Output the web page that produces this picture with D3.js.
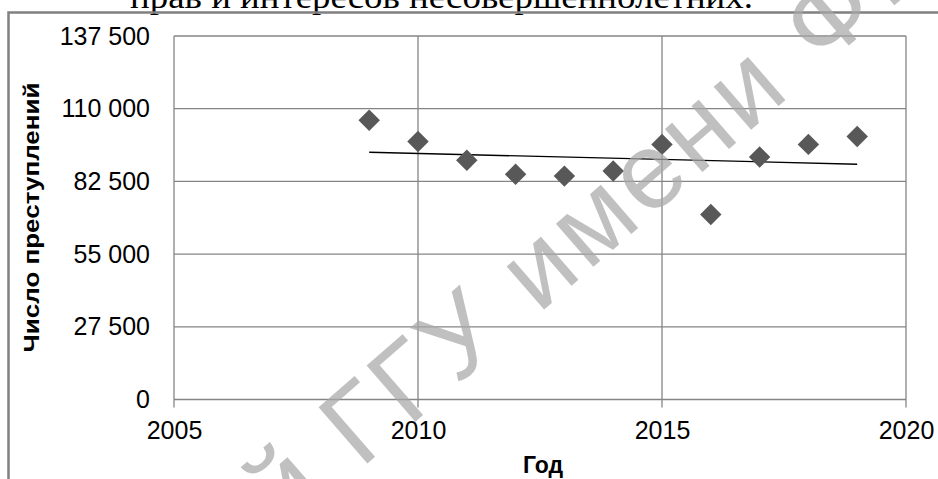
<!DOCTYPE html>
<html>
<head>
<meta charset="utf-8">
<script src="https://cdn.jsdelivr.net/npm/d3@7"></script>
<style>
  html, body { margin: 0; padding: 0; background: #fff; }
  svg { display: block; }
</style>
</head>
<body>
<script>
// ---- data ----
const years = [2009, 2010, 2011, 2012, 2013, 2014, 2015, 2016, 2017, 2018, 2019];
const crimes = [105600, 97600, 90500, 85200, 84500, 86400, 96500, 70000, 91700, 96500, 99500];
const xTickValues = [2005, 2010, 2015, 2020];
const yTickValues = [0, 27500, 55000, 82500, 110000, 137500];
const xDomain = [2005, 2020];
const yDomain = [0, 137500];
const titleText = "прав и интересов несовершеннолетних.";
const yLabel = "Число преступлений";
const xLabel = "Год";
const watermark = "й ГГУ имени Ф.";

const W = 938, H = 479;
const svg = d3.select("body").append("svg").attr("width", W).attr("height", H);

const x = d3.scaleLinear().domain(xDomain).range([174, 906]);
const y = d3.scaleLinear().domain(yDomain).range([399.5, 36]);

const locale = d3.formatLocale({decimal: ",", thousands: " ", grouping: [3], currency: ["", ""]});
const fmt = locale.format(",");

const gridColor = "#858585";
const sans = "'Liberation Sans', Arial, sans-serif";

// title (cut at top)
svg.append("text")
  .attr("x", 130).attr("y", 7.5)
  .attr("textLength", 623).attr("lengthAdjust", "spacingAndGlyphs")
  .style("font-family", "'Liberation Serif', 'Times New Roman', serif")
  .style("font-size", "34px").attr("fill", "#000")
  .text(titleText);

// outer chart border
svg.append("path")
  .attr("d", "M8.5,479 L8.5,12.5 L938,12.5")
  .attr("fill", "none").attr("stroke", "#808080").attr("stroke-width", 2.5);

// horizontal grid
svg.append("g").selectAll("line").data(yTickValues).join("line")
  .attr("x1", x(xDomain[0])).attr("x2", x(xDomain[1]))
  .attr("y1", d => y(d)).attr("y2", d => y(d))
  .attr("stroke", gridColor).attr("stroke-width", 1.3);

// vertical grid
svg.append("g").selectAll("line").data(xTickValues).join("line")
  .attr("x1", d => x(d)).attr("x2", d => x(d))
  .attr("y1", y(yDomain[1])).attr("y2", y(0) + 8)
  .attr("stroke", gridColor).attr("stroke-width", 1.3);

// x axis labels
const xAxis = d3.axisBottom(x).tickValues(xTickValues).tickFormat(d3.format("d")).tickSize(0).tickPadding(22);
const gx = svg.append("g").attr("transform", `translate(0,${y(0)})`).call(xAxis);
gx.select(".domain").remove();
gx.selectAll("text").style("font-family", sans).style("font-size", "25px").attr("fill", "#000");

// y axis labels
const yAxis = d3.axisLeft(y).tickValues(yTickValues).tickFormat(fmt).tickSize(0).tickPadding(24);
const gy = svg.append("g").attr("transform", `translate(${x(xDomain[0])},0)`).call(yAxis);
gy.select(".domain").remove();
gy.selectAll("text").style("font-family", sans).style("font-size", "25px").attr("fill", "#000");

// axis titles
svg.append("text")
  .attr("transform", "translate(38.5,217.5) rotate(-90)")
  .attr("text-anchor", "middle")
  .attr("textLength", 270).attr("lengthAdjust", "spacingAndGlyphs")
  .style("font-family", sans).style("font-size", "22px").style("font-weight", "bold")
  .text(yLabel);

svg.append("text")
  .attr("x", 543).attr("y", 473)
  .attr("text-anchor", "middle")
  .style("font-family", sans).style("font-size", "23px").style("font-weight", "bold")
  .text(xLabel);

// linear trend (least squares from the data)
const mx = d3.mean(years), my = d3.mean(crimes);
const slope = d3.sum(years, (t, i) => (t - mx) * (crimes[i] - my)) / d3.sum(years, t => (t - mx) ** 2);
const icpt = my - slope * mx;
const ends = d3.extent(years);
svg.append("line")
  .attr("x1", x(ends[0])).attr("y1", y(icpt + slope * ends[0]))
  .attr("x2", x(ends[1])).attr("y2", y(icpt + slope * ends[1]))
  .attr("stroke", "#000").attr("stroke-width", 1.4);

// markers
const diamond = d3.symbol().type(d3.symbolSquare).size(230);
svg.append("g").selectAll("path").data(years).join("path")
  .attr("d", diamond)
  .attr("transform", (d, i) => `translate(${x(d)},${y(crimes[i])}) rotate(45)`)
  .attr("fill", "#585858");

// watermark
svg.append("text")
  .attr("transform", "translate(285,535) rotate(-41)")
  .style("font-family", sans).style("font-size", "108px")
  .style("letter-spacing", "5px")
  .attr("fill", "#a8a8a8").attr("opacity", 0.72)
  .text(watermark);
</script>
</body>
</html>
